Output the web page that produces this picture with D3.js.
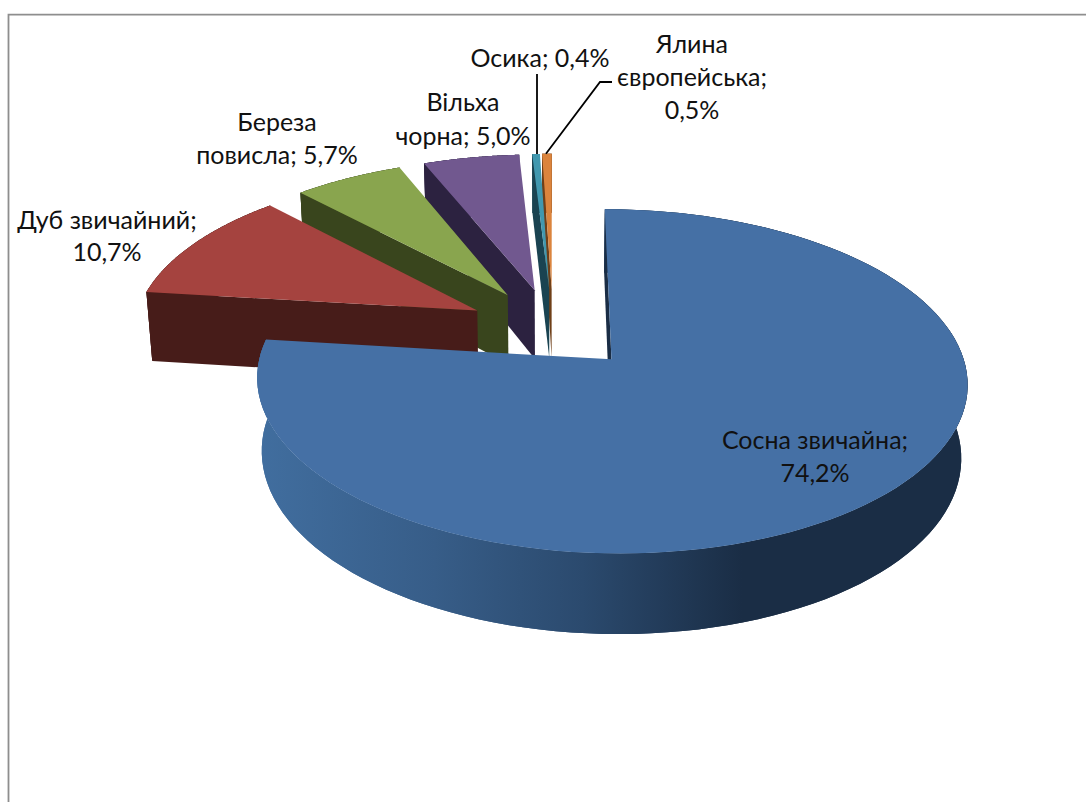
<!DOCTYPE html>
<html>
<head>
<meta charset="utf-8">
<script src="https://cdn.jsdelivr.net/npm/d3@7/dist/d3.min.js"></script>
<style>
  html, body { margin: 0; padding: 0; background: #fff; }
  svg { display: block; }
  text { font-family: "Lato", "Open Sans", "Noto Sans", sans-serif; fill: #111; }
</style>
</head>
<body>
<svg id="chart" width="1086" height="802"></svg>
<script>
// Tree species shares
const species = ["Сосна звичайна", "Дуб звичайний", "Береза повисла", "Вільха чорна", "Осика", "Ялина європейська"];
const shares = [74.2, 10.7, 5.7, 5.0, 0.4, 0.5];

// Label wording by row; {v} stands for the formatted share
const labelRows = [
  ["Сосна звичайна;", "{v}"],
  ["Дуб звичайний;", "{v}"],
  ["Береза", "повисла; {v}"],
  ["Вільха", "чорна; {v}"],
  ["Осика; {v}"],
  ["Ялина", "європейська;", "{v}"]
];

// Slice fills: top face and shaded side
const topColors = ["#4570a5", "#a5433f", "#89a54e", "#71588f", "#4198af", "#db843d"];
const sideColors = ["#1a2d45", "#471c19", "#39451d", "#2c2240", "#1a4351", "#6f3f18"];

// Label anchors: centre x and first baseline, with row spacing
const labelSpots = [[815, 449, 33], [107, 229, 32], [277, 131, 33], [463, 111, 34], [540, 67, 0], [692, 53, 33]];

// Camera model of the tilted disc
const perspective = 0.125, depthShrink = 0.015, wallHeight = 71, wallGrowth = 0.16, explode = 0.25;
const xDisc = d3.scaleLinear().domain([-1, 1]).range([553 - 344, 553 + 344]);
const yDisc = d3.scaleLinear().domain([-1, 1]).range([328.4 - 161.5, 328.4 + 161.5]);

function project(u, v, h) {
  const s = 1 / (1 - perspective * v + depthShrink * h);
  return [xDisc(u * s), yDisc(v * s) + h * wallHeight * (1 + wallGrowth * v)];
}

const svg = d3.select("#chart");
const line = d3.line();

// Frame: only top and left rules
svg.append("path").attr("d", "M1086,14.7H8.5V802").attr("fill", "none")
  .attr("stroke", "#8e8e8e").attr("stroke-width", 1.8);

// Side-wall gradient of the large slice
const grad = svg.append("defs").append("linearGradient").attr("id", "wallShade")
  .attr("gradientUnits", "userSpaceOnUse")
  .attr("x1", xDisc(-0.86)).attr("x2", xDisc(0.86)).attr("y1", 0).attr("y2", 0);
grad.append("stop").attr("offset", 0).attr("stop-color", "#416e9f");
grad.append("stop").attr("offset", 0.3).attr("stop-color", "#375d88");
grad.append("stop").attr("offset", 0.55).attr("stop-color", "#2b4a6e");
grad.append("stop").attr("offset", 0.82).attr("stop-color", "#1a2d45");
grad.append("stop").attr("offset", 1).attr("stop-color", "#1a2d45");

const slices = d3.pie().sort(null).value(d => d)(shares);

const geometry = slices.map(d => {
  const mid = (d.startAngle + d.endAngle) / 2;
  const u0 = explode * Math.sin(mid), v0 = -explode * Math.cos(mid);
  const rim = (a, h) => project(u0 + Math.sin(a), v0 - Math.cos(a), h);
  const angles = d3.range(0, 121).map(i => d.startAngle + (d.endAngle - d.startAngle) * i / 120);
  return { u0, v0, rim, angles, apex: h => project(u0, v0, h), start: d.startAngle };
});

// Paint from the back of the pie towards the viewer: last slice first
d3.range(slices.length - 1, -1, -1).forEach(i => {
  const g = geometry[i];
  const group = svg.append("g").attr("class", "slice").datum(species[i]);
  const wallFill = i === 0 ? "url(#wallShade)" : sideColors[i];

  // Outer rim wall: a band between the arcs, plus one quad per step so the
  // straight silhouette at the disc's widest points is filled as well
  const band = g.angles.map(a => g.rim(a, 0)).concat(g.angles.slice().reverse().map(a => g.rim(a, 1)));
  group.append("path").attr("d", line(band) + "Z").attr("fill", wallFill);
  const quads = g.angles.slice(1).map((a, k) => {
    const b = g.angles[k];
    return line([g.rim(b, 0), g.rim(a, 0), g.rim(a, 1), g.rim(b, 1)]) + "Z";
  }).join("");
  group.append("path").attr("d", quads).attr("fill", wallFill);

  // Cut wall along the slice's first edge
  const cutWall = [g.rim(g.start, 0), g.apex(0), g.apex(1), g.rim(g.start, 1)];
  group.append("path").attr("d", line(cutWall) + "Z").attr("fill", sideColors[i]);

  // Top face
  const face = [g.apex(0)].concat(g.angles.map(a => g.rim(a, 0)));
  group.append("path").attr("d", line(face) + "Z").attr("fill", topColors[i]);
});

// Leader lines for the two thinnest slices
const labelEnds = { 4: [[537, 74]], 5: [[612, 82], [600, 82]] };
Object.keys(labelEnds).forEach(k => {
  const i = +k, d = slices[i];
  const mid = (d.startAngle + d.endAngle) / 2;
  const target = geometry[i].rim(mid, 0);
  svg.append("path")
    .attr("d", line(labelEnds[k].concat([[i === 4 ? 537 : target[0] - 1, target[1]]])))
    .attr("fill", "none").attr("stroke", "#000").attr("stroke-width", 1.8);
});

// Data labels
const pct = d3.format(".1f");
labelRows.forEach((rows, i) => {
  const [x, y, step] = labelSpots[i];
  const value = pct(shares[i]).replace(".", ",") + "%";
  const t = svg.append("text").attr("text-anchor", "middle").attr("font-size", 25);
  rows.forEach((r, j) => {
    t.append("tspan").attr("x", x).attr("y", y + j * step).text(r.replace("{v}", value));
  });
});
</script>
</body>
</html>
